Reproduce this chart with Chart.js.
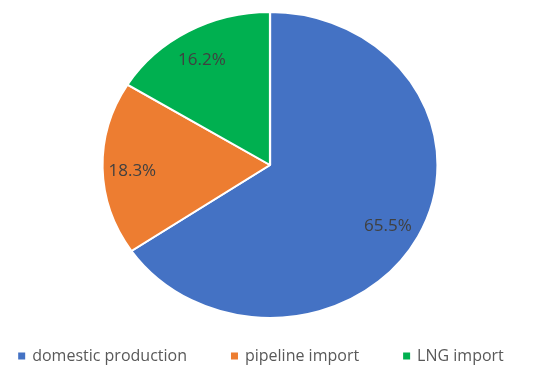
<!DOCTYPE html>
<html>
<head>
<meta charset="utf-8">
<script src="https://cdn.jsdelivr.net/npm/chart.js@4"></script>
<style>
  html, body { margin: 0; padding: 0; background: #fff; }
  #wrap { width: 553px; height: 365px; }
</style>
</head>
<body>
<div id="wrap"><canvas id="gas" width="553" height="365"></canvas></div>
<script>
// gas supply shares (%)
var sources = ['domestic production', 'pipeline import', 'LNG import'];
var shares = [65.5, 18.3, 16.2];
var colours = ['#4472C4', '#ED7D31', '#00B050'];

var stretchX = 1.095; // pie is drawn a bit wider than tall

// widen the pie horizontally around its centre
var stretchPlugin = {
  id: 'stretch',
  beforeDatasetsDraw: function(chart) {
    var arc = chart.getDatasetMeta(0).data[0];
    var ctx = chart.ctx;
    ctx.save();
    ctx.translate(arc.x, arc.y);
    ctx.scale(stretchX, 1);
    ctx.translate(-arc.x, -arc.y);
  },
  afterDatasetsDraw: function(chart) {
    chart.ctx.restore();
  }
};

// percentage labels inside each slice
var labelPlugin = {
  id: 'sliceLabels',
  afterDatasetsDraw: function(chart) {
    var ctx = chart.ctx;
    var meta = chart.getDatasetMeta(0);
    ctx.save();
    ctx.font = '17px "Open Sans", sans-serif';
    ctx.fillStyle = '#404040';
    ctx.textAlign = 'center';
    ctx.textBaseline = 'middle';
    meta.data.forEach(function(arc, i) {
      var p = arc.getProps(['x', 'y', 'startAngle', 'endAngle', 'outerRadius'], true);
      var mid = (p.startAngle + p.endAngle) / 2;
      var r = p.outerRadius * 0.81;
      var x = p.x + Math.cos(mid) * r * stretchX - 2;
      var y = p.y + Math.sin(mid) * r + 3;
      ctx.fillText(shares[i].toFixed(1) + '%', x, y);
    });
    ctx.restore();
  }
};

// legend row along the bottom
var legendPlugin = {
  id: 'bottomLegend',
  afterDraw: function(chart) {
    var ctx = chart.ctx;
    var box = 7, gap = 7, spacing = 44, cy = 356, centre = 261;
    ctx.save();
    ctx.font = '16px "Open Sans", sans-serif';
    ctx.textBaseline = 'middle';
    var widths = sources.map(function(s) { return ctx.measureText(s).width; });
    var total = 0;
    widths.forEach(function(w, i) { total += box + gap + w + (i ? spacing : 0); });
    var x = centre - total / 2;
    sources.forEach(function(s, i) {
      ctx.fillStyle = colours[i];
      ctx.fillRect(x, cy - box / 2, box, box);
      ctx.fillStyle = '#595959';
      ctx.fillText(s, x + box + gap, cy);
      x += box + gap + widths[i] + spacing;
    });
    ctx.restore();
  }
};

new Chart(document.getElementById('gas'), {
  type: 'pie',
  data: {
    labels: sources,
    datasets: [{
      data: shares,
      backgroundColor: colours,
      borderColor: '#ffffff',
      borderWidth: 2
    }]
  },
  options: {
    responsive: false,
    animation: false,
    layout: { padding: { top: 11, bottom: 46, left: 100, right: 113 } },
    plugins: {
      legend: { display: false },
      tooltip: { enabled: false }
    }
  },
  plugins: [stretchPlugin, labelPlugin, legendPlugin]
});
</script>
</body>
</html>
